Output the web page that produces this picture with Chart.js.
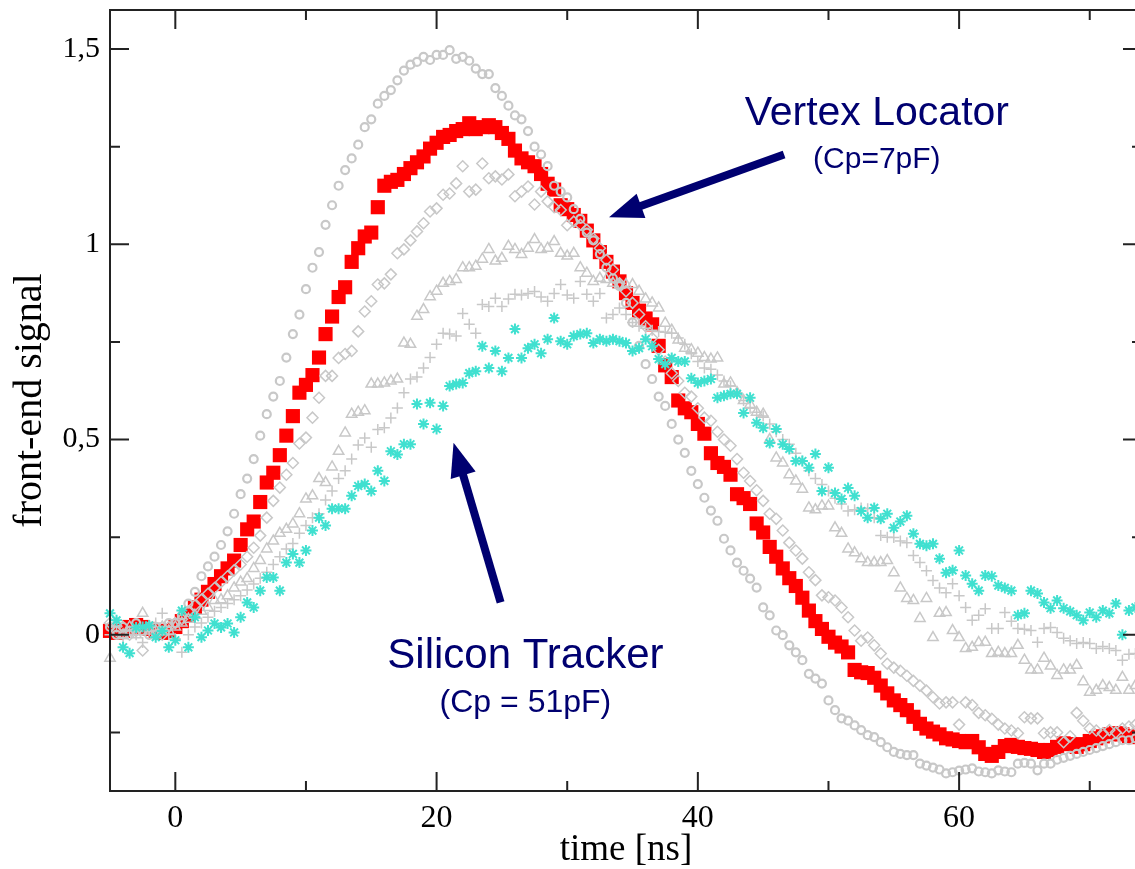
<!DOCTYPE html>
<html>
<head>
<meta charset="utf-8">
<script src="https://cdn.jsdelivr.net/npm/chart.js@4/dist/chart.umd.min.js"></script>
<style>
  html, body { margin: 0; padding: 0; overflow: hidden; background: #fff; }
  canvas { display: block; }
</style>
</head>
<body>
<canvas id="signalChart" width="1152" height="869"></canvas>
<script>
// front-end pulse shapes, one point every 0.5 ns
const times = [
  -5, -4.5, -4, -3.5, -3, -2.5, -2, -1.5, -1, -0.5,
  0, 0.5, 1, 1.5, 2, 2.5, 3, 3.5, 4, 4.5,
  5, 5.5, 6, 6.5, 7, 7.5, 8, 8.5, 9, 9.5,
  10, 10.5, 11, 11.5, 12, 12.5, 13, 13.5, 14, 14.5,
  15, 15.5, 16, 16.5, 17, 17.5, 18, 18.5, 19, 19.5,
  20, 20.5, 21, 21.5, 22, 22.5, 23, 23.5, 24, 24.5,
  25, 25.5, 26, 26.5, 27, 27.5, 28, 28.5, 29, 29.5,
  30, 30.5, 31, 31.5, 32, 32.5, 33, 33.5, 34, 34.5,
  35, 35.5, 36, 36.5, 37, 37.5, 38, 38.5, 39, 39.5,
  40, 40.5, 41, 41.5, 42, 42.5, 43, 43.5, 44, 44.5,
  45, 45.5, 46, 46.5, 47, 47.5, 48, 48.5, 49, 49.5,
  50, 50.5, 51, 51.5, 52, 52.5, 53, 53.5, 54, 54.5,
  55, 55.5, 56, 56.5, 57, 57.5, 58, 58.5, 59, 59.5,
  60, 60.5, 61, 61.5, 62, 62.5, 63, 63.5, 64, 64.5,
  65, 65.5, 66, 66.5, 67, 67.5, 68, 68.5, 69, 69.5,
  70, 70.5, 71, 71.5, 72, 72.5, 73, 73.5
]

// Vertex Locator (Cp=7pF) - red squares
const velo = [
  0.01, 0.005, 0.01, 0.02, 0.025, 0.02, 0.015, 0.01, 0.005, 0.01,
  0.02, 0.035, 0.05, 0.07, 0.09, 0.11, 0.13, 0.15, 0.17, 0.19,
  0.23, 0.27, 0.29, 0.34, 0.39, 0.415, 0.46, 0.51, 0.56, 0.62,
  0.64, 0.665, 0.71, 0.77, 0.815, 0.865, 0.89, 0.955, 0.99, 1.02,
  1.03, 1.095, 1.15, 1.16, 1.165, 1.18, 1.195, 1.21, 1.225, 1.245,
  1.26, 1.275, 1.28, 1.29, 1.295, 1.31, 1.295, 1.30, 1.305, 1.30,
  1.285, 1.27, 1.24, 1.22, 1.21, 1.20, 1.18, 1.155, 1.14, 1.10,
  1.09, 1.075, 1.06, 1.035, 1.01, 0.98, 0.955, 0.93, 0.905, 0.875,
  0.85, 0.83, 0.81, 0.795, 0.74, 0.69, 0.66, 0.60, 0.58, 0.57,
  0.54, 0.515, 0.465, 0.44, 0.43, 0.41, 0.36, 0.35, 0.335, 0.285,
  0.262, 0.225, 0.20, 0.17, 0.145, 0.125, 0.095, 0.062, 0.035, 0.015,
  -0.005, -0.02, -0.03, -0.045, -0.09, -0.096, -0.098, -0.11, -0.13, -0.15,
  -0.168, -0.18, -0.193, -0.21, -0.228, -0.24, -0.248, -0.255, -0.265, -0.268,
  -0.272, -0.275, -0.272, -0.288, -0.305, -0.31, -0.30, -0.285, -0.282, -0.287,
  -0.29, -0.292, -0.295, -0.30, -0.295, -0.287, -0.278, -0.28, -0.287, -0.28,
  -0.272, -0.265, -0.26, -0.255, -0.252, -0.255, -0.26, -0.262
]

// lowest capacitance - gray circles
const grayCircles = [
  0.02, 0.0, 0.02, 0.01, 0.03, 0.01, 0.0, 0.02, 0.01, 0.03,
  0.03, 0.05, 0.08, 0.11, 0.15, 0.175, 0.20, 0.23, 0.265, 0.31,
  0.36, 0.40, 0.45, 0.51, 0.565, 0.61, 0.65, 0.71, 0.77, 0.82,
  0.885, 0.94, 0.98, 1.05, 1.10, 1.15, 1.19, 1.22, 1.255, 1.30,
  1.32, 1.36, 1.38, 1.395, 1.42, 1.445, 1.46, 1.467, 1.48, 1.472,
  1.485, 1.485, 1.497, 1.475, 1.48, 1.47, 1.45, 1.436, 1.436, 1.40,
  1.38, 1.355, 1.33, 1.32, 1.29, 1.25, 1.23, 1.20, 1.15, 1.135,
  1.12, 1.09, 1.065, 1.03, 1.01, 0.975, 0.94, 0.913, 0.893, 0.85,
  0.80, 0.74, 0.693, 0.655, 0.61, 0.586, 0.54, 0.50, 0.466, 0.42,
  0.386, 0.351, 0.318, 0.292, 0.246, 0.216, 0.185, 0.164, 0.144, 0.121,
  0.07, 0.05, 0.011, -0.001, -0.027, -0.045, -0.065, -0.10, -0.112, -0.125,
  -0.168, -0.193, -0.214, -0.22, -0.232, -0.244, -0.257, -0.262, -0.275, -0.288,
  -0.30, -0.305, -0.308, -0.308, -0.33, -0.335, -0.34, -0.345, -0.355, -0.352,
  -0.348, -0.345, -0.342, -0.35, -0.352, -0.355, -0.347, -0.35, -0.352, -0.33,
  -0.328, -0.33, -0.347, -0.33, -0.33, -0.32, -0.315, -0.31, -0.305, -0.30,
  -0.295, -0.29, -0.285, -0.28, -0.275, -0.27, -0.27, -0.265
]

const grayDiamonds = [
  0.03, 0.01, 0.02, 0.0, 0.01, -0.04, 0.02, 0.01, 0.0, 0.02,
  0.03, 0.04, 0.06, 0.075, 0.09, 0.105, 0.12, 0.135, 0.15, 0.165,
  0.18, 0.20, 0.223, 0.254, 0.30, 0.343, 0.377, 0.41, 0.44, 0.49,
  0.505, 0.556, 0.607, 0.663, 0.663, 0.709, 0.719, 0.727, 0.777, 0.828,
  0.854, 0.897, 0.90, 0.923, 0.977, 0.987, 1.01, 1.033, 1.054, 1.084,
  1.092, 1.127, 1.13, 1.156, 1.20, 1.135, 1.14, 1.207, 1.169, 1.174,
  1.166, 1.179, 1.123, 1.135, 1.148, 1.102, 1.135, 1.11, 1.095, 1.088,
  1.049, 1.058, 1.05, 1.037, 1.015, 0.99, 0.96, 0.935, 0.90, 0.88,
  0.85, 0.82, 0.79, 0.76, 0.73, 0.70, 0.67, 0.65, 0.62, 0.61,
  0.58, 0.556, 0.548, 0.52, 0.50, 0.484, 0.45, 0.415, 0.394, 0.37,
  0.343, 0.31, 0.297, 0.267, 0.236, 0.216, 0.195, 0.16, 0.14, 0.101,
  0.096, 0.088, 0.07, 0.045, 0.011, -0.015, -0.007, -0.027, -0.048, -0.074,
  -0.084, -0.092, -0.105, -0.118, -0.13, -0.143, -0.16, -0.176, -0.173, -0.173,
  -0.23, -0.173, -0.18, -0.20, -0.206, -0.215, -0.23, -0.24, -0.245, -0.252,
  -0.211, -0.214, -0.214, -0.252, -0.25, -0.25, -0.275, -0.26, -0.2, -0.22,
  -0.24, -0.245, -0.252, -0.244, -0.25, -0.24, -0.235, -0.23
]

const grayTriangles = [
  -0.06, 0.03, 0.0, 0.02, 0.0, 0.055, 0.01, 0.0, 0.02, 0.01,
  0.02, 0.03, 0.04, 0.05, 0.06, 0.07, 0.088, 0.09, 0.10, 0.12,
  0.135, 0.144, 0.17, 0.19, 0.22, 0.24, 0.26, 0.27, 0.284, 0.31,
  0.348, 0.356, 0.40, 0.39, 0.43, 0.47, 0.517, 0.565, 0.57, 0.574,
  0.642, 0.642, 0.645, 0.65, 0.655, 0.747, 0.744, 0.816, 0.833, 0.866,
  0.88, 0.90, 0.905, 0.91, 0.94, 0.94, 0.944, 0.962, 0.987, 0.957,
  0.964, 0.995, 0.987, 0.974, 0.99, 1.012, 0.987, 0.99, 1.007, 0.977,
  0.97, 0.977, 0.94, 0.926, 0.905, 0.913, 0.91, 0.90, 0.895, 0.897,
  0.897, 0.88, 0.86, 0.85, 0.837, 0.798, 0.78, 0.755, 0.734, 0.73,
  0.721, 0.71, 0.706, 0.709, 0.642, 0.645, 0.62, 0.60, 0.59, 0.57,
  0.565, 0.50, 0.453, 0.44, 0.41, 0.394, 0.373, 0.325, 0.32, 0.33,
  0.33, 0.274, 0.26, 0.22, 0.21, 0.195, 0.185, 0.185, 0.185, 0.19,
  0.159, 0.12, 0.093, 0.088, 0.042, 0.093, -0.007, 0.055, 0.057, 0.011,
  -0.007, -0.035, -0.032, -0.02, -0.019, -0.048, -0.045, -0.048, -0.048, -0.027,
  -0.065, -0.09, -0.09, -0.06, -0.08, -0.104, -0.09, -0.09, -0.078, -0.12,
  -0.147, -0.142, -0.13, -0.135, -0.142, -0.109, -0.142, -0.13
]

const grayPlus = [
  0.0, 0.02, -0.01, 0.01, 0.0, -0.02, 0.01, 0.03, 0.055, 0.0,
  -0.01, -0.045, 0.0, 0.02, 0.03, 0.045, 0.06, 0.07, 0.08, 0.09,
  0.10, 0.115, 0.13, 0.145, 0.16, 0.18, 0.20, 0.22, 0.234, 0.26,
  0.28, 0.30, 0.31, 0.345, 0.368, 0.40, 0.42, 0.45, 0.486, 0.504,
  0.48, 0.526, 0.53, 0.555, 0.581, 0.62, 0.655, 0.66, 0.683, 0.71,
  0.744, 0.772, 0.77, 0.765, 0.823, 0.795, 0.772, 0.846, 0.841, 0.862,
  0.841, 0.86, 0.872, 0.87, 0.874, 0.879, 0.865, 0.854, 0.874, 0.897,
  0.87, 0.862, 0.905, 0.872, 0.854, 0.874, 0.811, 0.82, 0.837, 0.82,
  0.80, 0.79, 0.785, 0.78, 0.777, 0.775, 0.772, 0.76, 0.744, 0.72,
  0.70, 0.683, 0.68, 0.665, 0.65, 0.637, 0.62, 0.60, 0.58, 0.57,
  0.56, 0.54, 0.52, 0.50, 0.488, 0.465, 0.445, 0.42, 0.40, 0.385,
  0.368, 0.35, 0.335, 0.317, 0.32, 0.325, 0.323, 0.30, 0.254, 0.25,
  0.249, 0.24, 0.236, 0.203, 0.185, 0.164, 0.139, 0.12, 0.108, 0.131,
  0.10, 0.07, 0.037, 0.05, 0.067, 0.016, 0.016, 0.057, 0.035, 0.016,
  0.014, 0.011, -0.019, 0.016, 0.019, 0.006, -0.009, -0.015, -0.022, -0.02,
  -0.022, -0.035, -0.03, -0.035, -0.04, -0.065, -0.05, -0.048
]

// Silicon Tracker (Cp = 51pF) - cyan asterisks
const siTracker = [
  0.055, 0.037, -0.032, -0.047, 0.019, 0.02, 0.024, -0.006, 0.01, -0.032,
  -0.014, 0.062, -0.032, 0.045, -0.006, 0.011, 0.029, 0.019, 0.029, 0.006,
  0.045, 0.083, 0.07, 0.113, 0.147, 0.147, 0.113, 0.185, 0.207, 0.185,
  0.216, 0.267, 0.30, 0.28, 0.323, 0.323, 0.323, 0.356, 0.381, 0.386,
  0.368, 0.42, 0.394, 0.47, 0.462, 0.488, 0.488, 0.591, 0.54, 0.594,
  0.527, 0.586, 0.637, 0.642, 0.645, 0.67, 0.675, 0.739, 0.683, 0.727,
  0.675, 0.709, 0.783, 0.709, 0.734, 0.744, 0.721, 0.757, 0.811, 0.752,
  0.744, 0.765, 0.77, 0.772, 0.747, 0.757, 0.752, 0.757, 0.752, 0.747,
  0.727, 0.734, 0.757, 0.739, 0.706, 0.693, 0.709, 0.70, 0.70, 0.657,
  0.645, 0.65, 0.655, 0.607, 0.612, 0.617, 0.617, 0.568, 0.607, 0.543,
  0.53, 0.491, 0.527, 0.488, 0.476, 0.445, 0.445, 0.428, 0.463, 0.368,
  0.428, 0.363, 0.348, 0.376, 0.356, 0.317, 0.30, 0.325, 0.297, 0.31,
  0.274, 0.29, 0.305, 0.259, 0.233, 0.228, 0.233, 0.195, 0.159, 0.165,
  0.216, 0.152, 0.131, 0.113, 0.152, 0.15, 0.126, 0.12, 0.113, 0.05,
  0.055, 0.113, 0.106, 0.083, 0.068, 0.088, 0.068, 0.06, 0.05, 0.037,
  0.057, 0.045, 0.062, 0.055, 0.08, 0.0, 0.062, 0.07
]

// axes
const xMajorTicks = [0, 20, 40, 60]
const xMinorTicks = [10, 30, 50, 70]
const yMajorTicks = [0, 0.5, 1, 1.5]
const yMinorTicks = [-0.25, 0.25, 0.75, 1.25]

// annotations (data coordinates)
const navy = "#000070"
const notes = [
  { text: "Vertex Locator", t: 53.7, v: 1.305, size: 41 },
  { text: "(Cp=7pF)", t: 53.7, v: 1.195, size: 30 },
  { text: "Silicon Tracker", t: 26.8, v: -0.085, size: 42 },
  { text: "(Cp = 51pF)", t: 26.8, v: -0.198, size: 32 },
]
const arrows = [
  { from: [46.6, 1.23], to: [33.2, 1.069] },
  { from: [24.9, 0.083], to: [21.3, 0.492] },
]

const toPoints = (vals) => vals.map((v, i) => ({ x: times[i], y: v }))
const gray = "#c8c8c8"

const framePlugin = {
  id: "frame",
  afterDraw(chart) {
    const { ctx, chartArea: a, scales } = chart
    const x = scales.x
    const y = scales.y
    ctx.save()
    ctx.strokeStyle = "#222"
    ctx.lineWidth = 2
    ctx.strokeRect(a.left, a.top, a.right - a.left, a.bottom - a.top)
    ctx.beginPath()
    const xt = (vals, len) => vals.forEach((v) => {
      const px = x.getPixelForValue(v)
      ctx.moveTo(px, a.bottom); ctx.lineTo(px, a.bottom - len)
      ctx.moveTo(px, a.top); ctx.lineTo(px, a.top + len)
    })
    const yt = (vals, len) => vals.forEach((v) => {
      const py = y.getPixelForValue(v)
      ctx.moveTo(a.left, py); ctx.lineTo(a.left + len, py)
      ctx.moveTo(a.right, py); ctx.lineTo(a.right - len, py)
    })
    xt(xMajorTicks, 19); xt(xMinorTicks, 10)
    yt(yMajorTicks, 19); yt(yMinorTicks, 10)
    ctx.stroke()
    ctx.restore()
  },
}

const notesPlugin = {
  id: "notes",
  afterDraw(chart) {
    const { ctx, scales } = chart
    const x = scales.x
    const y = scales.y
    ctx.save()
    ctx.fillStyle = navy
    ctx.strokeStyle = navy
    ctx.textAlign = "center"
    ctx.textBaseline = "alphabetic"
    notes.forEach((n) => {
      ctx.font = n.size + "px 'Liberation Sans', Arial, sans-serif"
      ctx.fillText(n.text, x.getPixelForValue(n.t), y.getPixelForValue(n.v))
    })
    arrows.forEach((ar) => {
      const x1 = x.getPixelForValue(ar.from[0]), y1 = y.getPixelForValue(ar.from[1])
      const x2 = x.getPixelForValue(ar.to[0]), y2 = y.getPixelForValue(ar.to[1])
      const ang = Math.atan2(y2 - y1, x2 - x1)
      const len = 34, half = 13
      const bx = x2 - len * Math.cos(ang), by = y2 - len * Math.sin(ang)
      ctx.lineWidth = 8
      ctx.beginPath()
      ctx.moveTo(x1, y1)
      ctx.lineTo(bx + 4 * Math.cos(ang), by + 4 * Math.sin(ang))
      ctx.stroke()
      ctx.beginPath()
      ctx.moveTo(x2, y2)
      ctx.lineTo(bx - half * Math.sin(ang), by + half * Math.cos(ang))
      ctx.lineTo(bx + half * Math.sin(ang), by - half * Math.cos(ang))
      ctx.closePath()
      ctx.fill()
    })
    ctx.restore()
  },
}

const serif = "'Liberation Serif', 'Times New Roman', serif"
const ctx = document.getElementById("signalChart")
new Chart(ctx, {
  type: "scatter",
  data: {
    datasets: [
      { label: "Cp = 51pF", data: toPoints(siTracker), pointStyle: "star", pointRadius: 5.5, borderColor: "#40e0d0", backgroundColor: "#40e0d0", borderWidth: 2 },
      { label: "plus", data: toPoints(grayPlus), pointStyle: "cross", pointRadius: 5.5, borderColor: gray, borderWidth: 1.5 },
      { label: "triangles", data: toPoints(grayTriangles), pointStyle: "triangle", pointRadius: 6, borderColor: gray, backgroundColor: "rgba(0,0,0,0)", borderWidth: 1.5 },
      { label: "diamonds", data: toPoints(grayDiamonds), pointStyle: "rectRot", pointRadius: 5.5, borderColor: gray, backgroundColor: "rgba(0,0,0,0)", borderWidth: 1.5 },
      { label: "circles", data: toPoints(grayCircles), pointStyle: "circle", pointRadius: 4, borderColor: gray, backgroundColor: "rgba(0,0,0,0)", borderWidth: 2.2 },
      { label: "Cp=7pF", data: toPoints(velo), pointStyle: "rect", pointRadius: 10, borderColor: "#ff0000", backgroundColor: "#ff0000", borderWidth: 0 },
    ],
  },
  options: {
    responsive: false,
    animation: false,
    devicePixelRatio: 1,
    clip: false,
    layout: { padding: { top: 8, right: 3, left: 0, bottom: 0 } },
    plugins: { legend: { display: false }, tooltip: { enabled: false } },
    elements: { point: { hoverRadius: 0 } },
    scales: {
      x: {
        type: "linear",
        min: -5,
        max: 74,
        grid: { display: false, drawTicks: false },
        border: { display: false },
        afterBuildTicks: (s) => { s.ticks = xMajorTicks.map((v) => ({ value: v })) },
        afterFit: (s) => { s.height = 78; s.paddingLeft = 0; s.paddingRight = 0 },
        ticks: {
          padding: 8,
          color: "#000",
          font: { family: serif, size: 32 },
          callback: (v) => String(v),
        },
        title: {
          display: true,
          text: "time [ns]",
          color: "#000",
          font: { family: serif, size: 37, lineHeight: 1 },
          padding: { top: 0, bottom: 0 },
        },
      },
      y: {
        type: "linear",
        min: -0.4,
        max: 1.6,
        grid: { display: false, drawTicks: false },
        border: { display: false },
        afterBuildTicks: (s) => { s.ticks = yMajorTicks.map((v) => ({ value: v })) },
        afterFit: (s) => { s.width = 110; s.paddingTop = 0; s.paddingBottom = 0 },
        ticks: {
          padding: 10,
          color: "#000",
          font: { family: serif, size: 30 },
          callback: (v) => String(v).replace(".", ","),
        },
        title: {
          display: true,
          text: "front-end signal",
          color: "#000",
          font: { family: serif, size: 40, lineHeight: 1 },
          padding: { top: 10, bottom: 0 },
        },
      },
    },
  },
  plugins: [framePlugin, notesPlugin],
})
</script>
</body>
</html>
